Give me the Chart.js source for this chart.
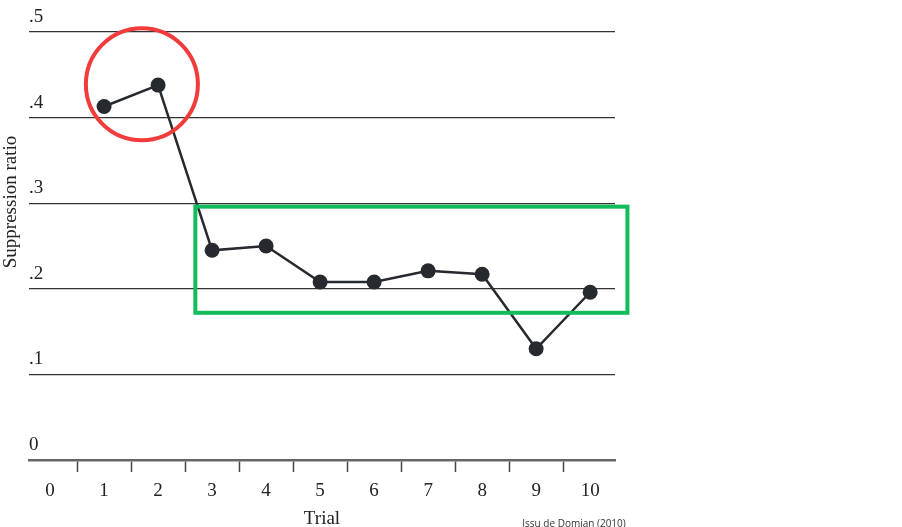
<!DOCTYPE html>
<html>
<head>
<meta charset="utf-8">
<script src="https://cdn.jsdelivr.net/npm/chart.js@4"></script>
<style>
  html, body { margin: 0; padding: 0; background: #fff; }
  #wrap { width: 902px; height: 527px; position: relative; }
</style>
</head>
<body>
<div id="wrap"><canvas id="suppressionchart"></canvas></div>
<script>
// Data block
const trials = [1, 2, 3, 4, 5, 6, 7, 8, 9, 10];
const suppressionRatio = [0.413, 0.438, 0.245, 0.25, 0.208, 0.208, 0.221, 0.217, 0.13, 0.196];
const xTickLabels = ['0', '1', '2', '3', '4', '5', '6', '7', '8', '9', '10'];
const yTickLabels = ['0', '.1', '.2', '.3', '.4', '.5'];
// Annotation marks, in data units: circle centre + box corners
const circleMark = [1.7, 0.439];
const boxMark = [2.69, 0.296, 10.69, 0.172];

const serif = '"Liberation Serif", "DejaVu Serif", serif';
const ink = '#26292d';

// Y title + annotations + source note
const overlayPlugin = {
    id: 'overlay',
    afterDatasetsDraw(chart) {
        const {ctx, scales: {x, y}} = chart;
        ctx.save();
        // red circle around trials 1-2
        ctx.strokeStyle = '#f23b3b';
        ctx.lineWidth = 4;
        ctx.beginPath();
        ctx.arc(x.getPixelForValue(circleMark[0]), y.getPixelForValue(circleMark[1]), 56, 0, Math.PI * 2);
        ctx.stroke();
        // green box around trials 3-10
        const bx1 = x.getPixelForValue(boxMark[0]), by1 = y.getPixelForValue(boxMark[1]);
        const bx2 = x.getPixelForValue(boxMark[2]), by2 = y.getPixelForValue(boxMark[3]);
        ctx.strokeStyle = '#12bb5c';
        ctx.strokeRect(bx1, by1, bx2 - bx1, by2 - by1);
        ctx.restore();
    },
    afterDraw(chart) {
        const {ctx} = chart;
        ctx.save();
        ctx.fillStyle = '#222';
        ctx.font = '19px ' + serif;
        ctx.textAlign = 'center';
        ctx.textBaseline = 'middle';
        ctx.translate(11, 202);
        ctx.rotate(-Math.PI / 2);
        ctx.fillText('Suppression ratio', 0, 0);
        ctx.restore();
        ctx.save();
        ctx.fillStyle = '#333';
        ctx.font = '10px "Open Sans", "DejaVu Sans", sans-serif';
        ctx.textAlign = 'center';
        ctx.textBaseline = 'alphabetic';
        ctx.fillText('Issu de Domjan (2010)', 574, 527);
        ctx.restore();
    }
};

const suppressionConfig = {
    type: 'line',
    data: {
        datasets: [{
            label: 'Suppression ratio',
            data: trials.map((t, i) => ({x: t, y: suppressionRatio[i]})),
            borderColor: ink,
            borderWidth: 2.5,
            backgroundColor: ink,
            pointRadius: 7.5,
            pointBackgroundColor: ink,
            pointBorderColor: ink,
            pointBorderWidth: 0,
            tension: 0,
        }]
    },
    options: {
        responsive: false,
        animation: false,
        layout: {padding: {left: 29, right: 287, top: 32, bottom: 0}},
        plugins: {
            legend: {display: false},
            tooltip: {enabled: false},
        },
        scales: {
            x: {
                type: 'linear',
                min: -0.39,
                max: 10.46,
                afterBuildTicks(scale) {
                    // integer ticks carry labels, half-integer ticks carry marks
                    const ticks = [];
                    for (let v = 0; v <= 10; v += 0.5) ticks.push({value: v});
                    scale.ticks = ticks;
                },
                ticks: {
                    autoSkip: false,
                    maxRotation: 0,
                    minRotation: 0,
                    padding: 8,
                    color: '#222',
                    font: {family: serif, size: 19},
                    callback: function(value) {
                        return Number.isInteger(value) ? xTickLabels[value] : '';
                    }
                },
                grid: {
                    drawOnChartArea: false,
                    tickLength: 12,
                    tickWidth: 1.5,
                    tickColor: (c) => (c.tick && !Number.isInteger(c.tick.value)) ? '#444' : 'rgba(0,0,0,0)',
                },
                border: {display: true, color: '#666', width: 2.5},
                title: {
                    display: true,
                    text: 'Trial',
                    color: '#222',
                    font: {family: serif, size: 19, lineHeight: 0.85},
                    padding: {top: 0, bottom: 0},
                }
            },  // End x axis
            y: {
                min: 0,
                max: 0.5,
                ticks: {
                    stepSize: 0.1,
                    mirror: true,
                    padding: 0,
                    labelOffset: -15,
                    color: '#222',
                    font: {family: serif, size: 19},
                    callback: function(value) {
                        return yTickLabels[Math.round(value * 10)];
                    }
                },
                grid: {
                    color: '#333',
                    lineWidth: 1.3,
                    drawTicks: false,
                },
                border: {display: false},
            }  // End y axis
        }
    },
    plugins: [overlayPlugin]
};

const wrapCanvas = document.getElementById('suppressionchart');
wrapCanvas.width = 902;
wrapCanvas.height = 527;
const suppressionChart = new Chart(wrapCanvas, suppressionConfig);
</script>
</body>
</html>
